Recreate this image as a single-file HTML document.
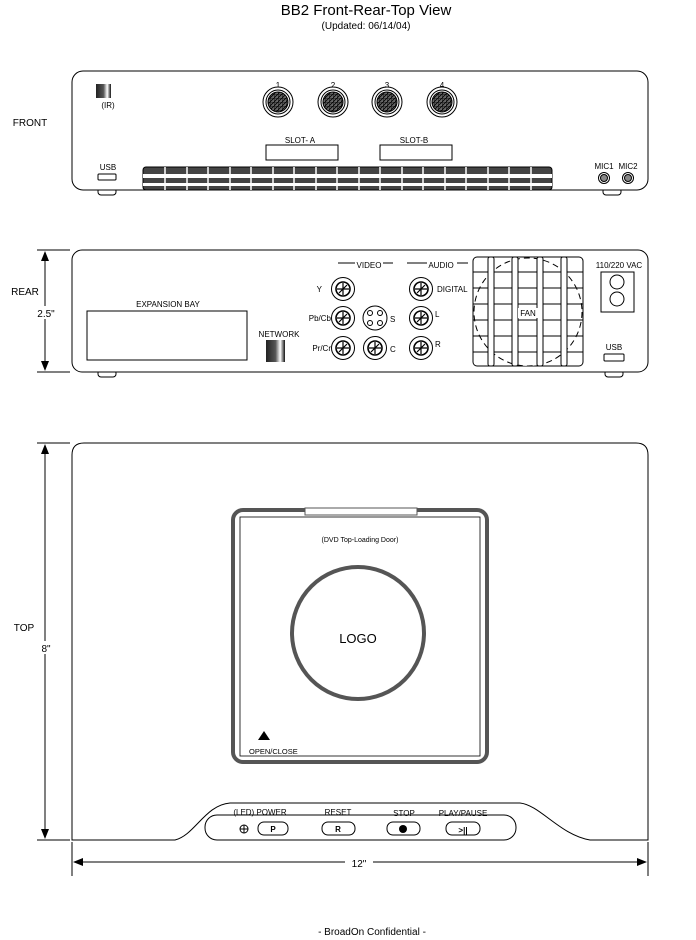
<!DOCTYPE html>
<html><head><meta charset="utf-8"><style>
html,body{margin:0;padding:0;background:#fff;}
svg{display:block;font-family:"Liberation Sans",Arial,sans-serif;}
</style></head><body>
<svg width="696" height="940" viewBox="0 0 696 940" xmlns="http://www.w3.org/2000/svg">
<defs>
<linearGradient id="g" x1="0" x2="1"><stop offset="0" stop-color="#222"/><stop offset="0.5" stop-color="#555"/><stop offset="0.75" stop-color="#fff"/><stop offset="1" stop-color="#111"/></linearGradient>
<pattern id="grid" width="4" height="4" patternUnits="userSpaceOnUse"><rect width="4" height="4" fill="#666"/><path d="M0 0H4M0 0V4M0 4L4 0" stroke="#000" stroke-width="0.8"/></pattern>
<g id="jack"><circle r="11.5" fill="#fff" stroke="#000" stroke-width="1"/><circle r="7" fill="#fff" stroke="#000" stroke-width="1.6"/><path d="M-6 0H6M0 -6V6M-4 4L4 -4" stroke="#000" stroke-width="1.2"/></g>
<g id="din"><circle r="15" fill="#fff" stroke="#000" stroke-width="1"/><circle r="12" fill="#fff" stroke="#000" stroke-width="1"/><circle r="10" fill="url(#grid)" stroke="#000"/></g>
<g id="mic"><circle r="5.5" fill="#fff" stroke="#000"/><circle r="3.5" fill="#888" stroke="#000"/></g>
</defs>
<g text-anchor="middle">
<text x="366" y="15" font-size="15">BB2 Front-Rear-Top View</text>
<text x="366" y="29" font-size="10">(Updated: 06/14/04)</text>
</g>
<!-- FRONT -->
<g stroke="#000" fill="#fff" stroke-width="1">
<rect x="98" y="188" width="18" height="7" rx="3"/><rect x="603" y="188" width="18" height="7" rx="3"/>
<rect x="72" y="71" width="576" height="119" rx="11"/>
<rect x="266" y="145" width="72" height="15"/><rect x="380" y="145" width="72" height="15"/>
<rect x="98" y="174" width="18" height="6" rx="1"/>
</g>
<rect x="96" y="84" width="15" height="14" fill="url(#g)"/>
<g font-size="8" text-anchor="middle">
<text x="108" y="108">(IR)</text>
<text x="278" y="88">1</text><text x="333" y="88">2</text><text x="387" y="88">3</text><text x="442" y="88">4</text>
<text x="300" y="143">SLOT- A</text><text x="414" y="143">SLOT-B</text>
<text x="108" y="170">USB</text><text x="604" y="169">MIC1</text><text x="628" y="169">MIC2</text>
</g>
<use href="#din" x="278" y="102"/><use href="#din" x="333" y="102"/><use href="#din" x="387" y="102"/><use href="#din" x="442" y="102"/>
<use href="#mic" x="604" y="178"/><use href="#mic" x="628" y="178"/>
<g>
<rect x="143" y="167" width="409" height="23" rx="3" fill="#444" stroke="#000"/>
<g fill="#fff"><rect x="143" y="174" width="409" height="4"/><rect x="143" y="183" width="409" height="3"/></g>
<g stroke="#fff" stroke-width="1.5">
<path d="M165 167V190M187 167V190M208 167V190M230 167V190M251 167V190M273 167V190M294 167V190M316 167V190M337 167V190M359 167V190M380 167V190M402 167V190M423 167V190M445 167V190M466 167V190M488 167V190M509 167V190M531 167V190"/>
</g>
</g>
<!-- REAR -->
<g stroke="#000" fill="#fff">
<rect x="98" y="370" width="18" height="7" rx="3"/><rect x="605" y="370" width="18" height="7" rx="3"/>
<rect x="72" y="250" width="576" height="122" rx="10"/>
<rect x="87" y="311" width="160" height="49"/>
<rect x="601" y="272" width="33" height="40"/><circle cx="617" cy="282" r="7"/><circle cx="617" cy="299" r="7"/>
<rect x="604" y="354" width="20" height="7" rx="1"/>
<path d="M338 263H355M383 263H393M407 263H427M457 263H468" fill="none"/>
</g>
<rect x="266" y="340" width="19" height="22" fill="url(#g)"/>
<use href="#jack" x="343" y="289"/><use href="#jack" x="343" y="318"/><use href="#jack" x="343" y="348"/>
<use href="#jack" x="375" y="348"/><use href="#jack" x="421" y="289"/><use href="#jack" x="421" y="318"/><use href="#jack" x="421" y="348"/>
<g stroke="#000" fill="#fff"><circle cx="375" cy="318" r="12"/><circle cx="370" cy="313" r="2.5"/><circle cx="380" cy="313" r="2.5"/><circle cx="370" cy="323" r="2.5"/><circle cx="380" cy="323" r="2.5"/></g>
<!-- fan -->
<g stroke="#000" fill="#fff">
<rect x="473" y="257" width="110" height="109" rx="4"/>
<circle cx="528" cy="312" r="54" stroke-dasharray="6 4"/>
<path d="M473 272H583M473 288H583M473 304H583M473 320H583M473 336H583M473 352H583" stroke-width="1"/>
<rect x="488" y="257" width="6" height="109" rx="2"/><rect x="512" y="257" width="6" height="109" rx="2"/><rect x="537" y="257" width="6" height="109" rx="2"/><rect x="561" y="257" width="6" height="109" rx="2"/>
</g>
<rect x="518" y="308" width="20" height="10" fill="#fff"/>
<g font-size="8">
<text x="369" y="268" text-anchor="middle">VIDEO</text><text x="441" y="268" text-anchor="middle">AUDIO</text>
<text x="168" y="307" text-anchor="middle">EXPANSION BAY</text>
<text x="279" y="337" text-anchor="middle">NETWORK</text>
<text x="322" y="292" text-anchor="end">Y</text><text x="331" y="321" text-anchor="end">Pb/Cb</text><text x="331" y="351" text-anchor="end">Pr/Cr</text>
<text x="390" y="322">S</text><text x="390" y="352">C</text>
<text x="437" y="292">DIGITAL</text><text x="435" y="317">L</text><text x="435" y="347">R</text>
<text x="528" y="316" text-anchor="middle">FAN</text>
<text x="619" y="268" text-anchor="middle">110/220 VAC</text>
<text x="614" y="350" text-anchor="middle">USB</text>
</g>
<!-- TOP -->
<path d="M84 443H636Q648 443 648 455V840H590C560 835 540 805 520 803H230C205 805 195 835 175 840H72V455Q72 443 84 443Z" fill="#fff" stroke="#000"/>
<rect x="205" y="815" width="311" height="25" rx="12" fill="#fff" stroke="#000"/>
<g stroke="#000" fill="#fff">
<rect x="258" y="822" width="30" height="13" rx="6"/><rect x="322" y="822" width="33" height="13" rx="6"/><rect x="387" y="822" width="33" height="13" rx="6"/><rect x="446" y="822" width="34" height="13" rx="6"/>
<circle cx="244" cy="829" r="4"/><path d="M240 829H248M244 825V833"/>
</g>
<circle cx="403" cy="829" r="4" fill="#000"/>
<g font-size="8" text-anchor="middle">
<text x="260" y="815">(LED) POWER</text><text x="338" y="815">RESET</text><text x="404" y="816">STOP</text><text x="463" y="816">PLAY/PAUSE</text>
<text x="273" y="832" font-weight="bold">P</text><text x="338" y="832" font-weight="bold">R</text><text x="463" y="833" font-weight="bold">&gt;||</text>
</g>
<rect x="233" y="510" width="254" height="252" rx="10" fill="#fff" stroke="#555" stroke-width="4"/>
<rect x="305" y="508" width="112" height="7" fill="#fff" stroke="#555" stroke-width="1"/>
<rect x="240" y="517" width="240" height="239" fill="#fff" stroke="#000" stroke-width="0.8"/>
<circle cx="358" cy="633" r="66" fill="none" stroke="#555" stroke-width="4"/>
<text x="360" y="542" font-size="7" text-anchor="middle">(DVD Top-Loading Door)</text>
<text x="358" y="643" font-size="13" text-anchor="middle">LOGO</text>
<path d="M258 740L264 731L270 740Z" fill="#000"/>
<text x="249" y="754" font-size="7.5">OPEN/CLOSE</text>
<!-- dimensions -->
<g stroke="#000" fill="none">
<path d="M37 250H70M37 372H70M37 443H70M37 840H70M72 842V876M648 842V876"/>
<path d="M45 258V364M45 451V832M82 862H638"/>
</g>
<g fill="#000">
<path d="M45 251L41 261H49Z"/><path d="M45 371L41 361H49Z"/>
<path d="M45 444L41 454H49Z"/><path d="M45 839L41 829H49Z"/>
<path d="M73 862L83 858V866Z"/><path d="M647 862L637 858V866Z"/>
</g>
<rect x="36" y="306" width="20" height="13" fill="#fff"/><rect x="38" y="641" width="16" height="13" fill="#fff"/><rect x="345" y="857" width="28" height="12" fill="#fff"/>
<g font-size="10" text-anchor="middle">
<text x="46" y="317">2.5"</text><text x="46" y="652">8"</text><text x="359" y="867">12"</text>
<text x="30" y="126">FRONT</text><text x="25" y="295">REAR</text><text x="24" y="631">TOP</text>
<text x="372" y="935">- BroadOn Confidential -</text>
</g>
</svg>
</body></html>
